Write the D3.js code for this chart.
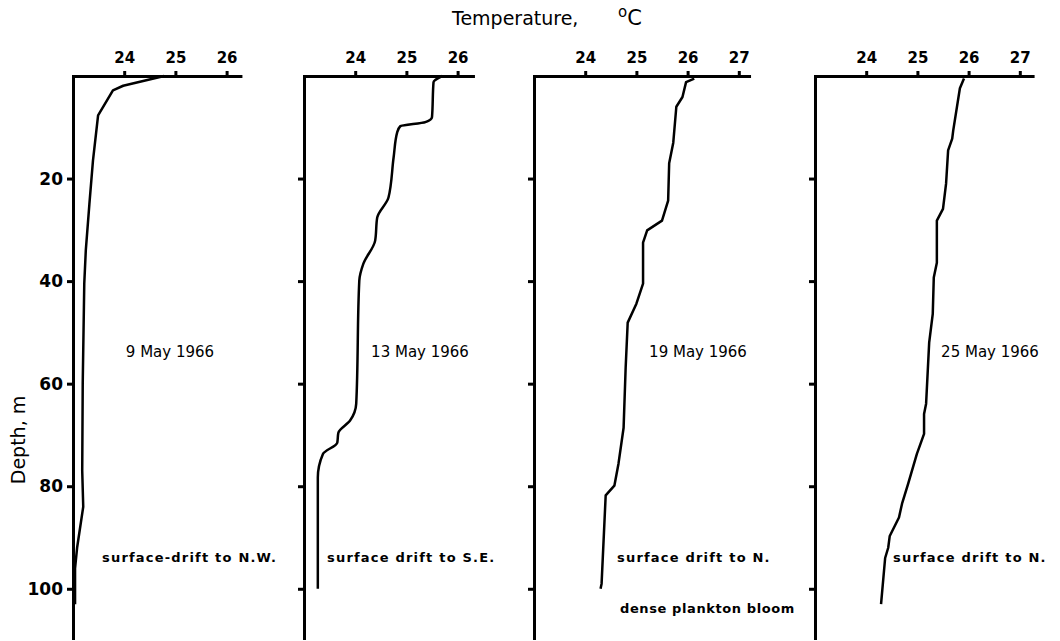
<!DOCTYPE html>
<html>
<head>
<meta charset="utf-8">
<script src="https://cdn.jsdelivr.net/npm/d3@7"></script>
<style>
  body { margin: 0; background: #fff; }
  text { font-family: "DejaVu Sans", sans-serif; fill: #000; }
</style>
</head>
<body>
<script>
// temperature profiles, depth in m, temperature in deg C
var dates = ["9 May 1966", "13 May 1966", "19 May 1966", "25 May 1966"]
var notes = ["surface-drift to N.W.", "surface drift to S.E.", "surface drift to N.", "surface drift to N."]
var extraNote = "dense plankton bloom"

var depth1 = [0, 1.9, 2.8, 7.7, 16.5, 25, 34, 40.5, 60, 77, 84, 92, 96, 103]
var temp1  = [24.78, 23.98, 23.78, 23.49, 23.39, 23.32, 23.25, 23.22, 23.19, 23.18, 23.2, 23.08, 23.04, 23.04]

var depth2 = [0, 1.2, 8, 9, 9.8, 11, 15.9, 23.7, 27.6, 32.1, 36.6, 39.9, 63.9, 67.2, 69.6, 71.5, 73.7, 78.3, 100]
var temp2  = [25.7, 25.53, 25.5, 25.37, 24.88, 24.82, 24.75, 24.65, 24.43, 24.39, 24.16, 24.08, 24.02, 23.9, 23.67, 23.65, 23.37, 23.27, 23.27]

var depth3 = [0.5, 1.2, 4.1, 6, 13, 17, 24.3, 28.2, 30.1, 32.5, 40.5, 44.4, 48.1, 56.9, 68.6, 75.6, 79.9, 81.8, 99, 100]
var temp3  = [26.13, 25.97, 25.9, 25.78, 25.72, 25.64, 25.62, 25.5, 25.21, 25.13, 25.13, 25.0, 24.83, 24.79, 24.75, 24.65, 24.57, 24.4, 24.32, 24.3]

var depth4 = [0.5, 2.4, 10.6, 12.2, 14.5, 21, 25.9, 28.2, 36.4, 39.3, 46.4, 52, 63.9, 65.9, 69.8, 73.7, 79.5, 83.4, 86.1, 89.7, 92, 94, 103]
var temp4  = [25.91, 25.83, 25.7, 25.68, 25.6, 25.56, 25.5, 25.38, 25.38, 25.32, 25.3, 25.23, 25.17, 25.13, 25.13, 24.99, 24.82, 24.7, 24.64, 24.46, 24.43, 24.37, 24.29]

var tempTicks = [[24, 25, 26], [24, 25, 26], [24, 25, 26, 27], [24, 25, 26, 27]]
var tempMax = [26.27, 26.3, 27.2, 27.25]
var depthTicks = [20, 40, 60, 80, 100]

var profiles = [
  {depth: depth1, temp: temp1, curve: d3.curveLinear},
  {depth: depth2, temp: temp2, curve: d3.curveMonotoneY},
  {depth: depth3, temp: temp3, curve: d3.curveLinear},
  {depth: depth4, temp: temp4, curve: d3.curveLinear}
]

var width = 1060, height = 641
var left = [73, 304, 534, 815]
var pxPerDeg = 51.2
var noteX = [102, 327, 617, 893]
var dateX = [170, 420, 698, 990]

var svg = d3.select("body").append("svg")
  .attr("width", width).attr("height", height)

var yScale = d3.scaleLinear().domain([0, 109.6]).range([76, 638])

profiles.forEach(function(p, i) {
  var xScale = d3.scaleLinear()
    .domain([23, tempMax[i]])
    .range([left[i], left[i] + (tempMax[i] - 23) * pxPerDeg])

  var g = svg.append("g")

  // depth axis
  var yAxis = d3.axisLeft(yScale)
    .tickValues(depthTicks)
    .tickSize(6).tickSizeOuter(0).tickPadding(4)
    .tickFormat(i == 0 ? d3.format("d") : "")
  var ya = g.append("g")
    .attr("transform", "translate(" + left[i] + ",0)")
    .call(yAxis)
  ya.select(".domain").attr("stroke-width", 3).attr("stroke-linecap", "square")
  ya.selectAll(".tick line").attr("stroke-width", 3)
  ya.selectAll(".tick text")
    .style("font-size", "17px").style("font-weight", "bold")
    .attr("fill", "#000")

  // temperature axis
  var xAxis = d3.axisTop(xScale)
    .tickValues(tempTicks[i])
    .tickSize(5).tickSizeOuter(0).tickPadding(8)
    .tickFormat(d3.format("d"))
  var xa = g.append("g")
    .attr("transform", "translate(0," + yScale(0) + ")")
    .call(xAxis)
  xa.select(".domain").attr("stroke-width", 3).attr("stroke-linecap", "square")
  xa.selectAll(".tick line").attr("stroke-width", 3)
  xa.selectAll(".tick text")
    .style("font-size", "15px").style("font-weight", "bold")
    .attr("fill", "#000")

  var line = d3.line()
    .x(function(d, k) { return xScale(p.temp[k]) })
    .y(function(d) { return yScale(d) })
    .curve(p.curve)

  g.append("path")
    .datum(p.depth)
    .attr("d", line)
    .attr("fill", "none")
    .attr("stroke", "#000")
    .attr("stroke-width", 2.5)
    .attr("stroke-linejoin", "round")

  g.append("text")
    .attr("x", dateX[i]).attr("y", 357)
    .attr("text-anchor", "middle")
    .style("font-size", "15px")
    .text(dates[i])

  g.append("text")
    .attr("x", noteX[i]).attr("y", 562)
    .style("font-size", "13px").style("font-weight", "bold")
    .style("letter-spacing", "1.2px")
    .text(notes[i])
})

svg.append("text")
  .attr("x", 620).attr("y", 613)
  .style("font-size", "13px").style("font-weight", "bold")
  .style("letter-spacing", "0.6px")
  .text(extraNote)

// titles
svg.append("text")
  .attr("x", 452).attr("y", 25)
  .style("font-size", "19px")
  .text("Temperature,")
svg.append("text")
  .attr("x", 618).attr("y", 25)
  .style("font-size", "21px")
  .html('<tspan dy="-8" style="font-size:15px">o</tspan><tspan dy="8">C</tspan>')

svg.append("text")
  .attr("transform", "translate(25,440) rotate(-90)")
  .attr("text-anchor", "middle")
  .style("font-size", "19px")
  .text("Depth,  m")
</script>
</body>
</html>
